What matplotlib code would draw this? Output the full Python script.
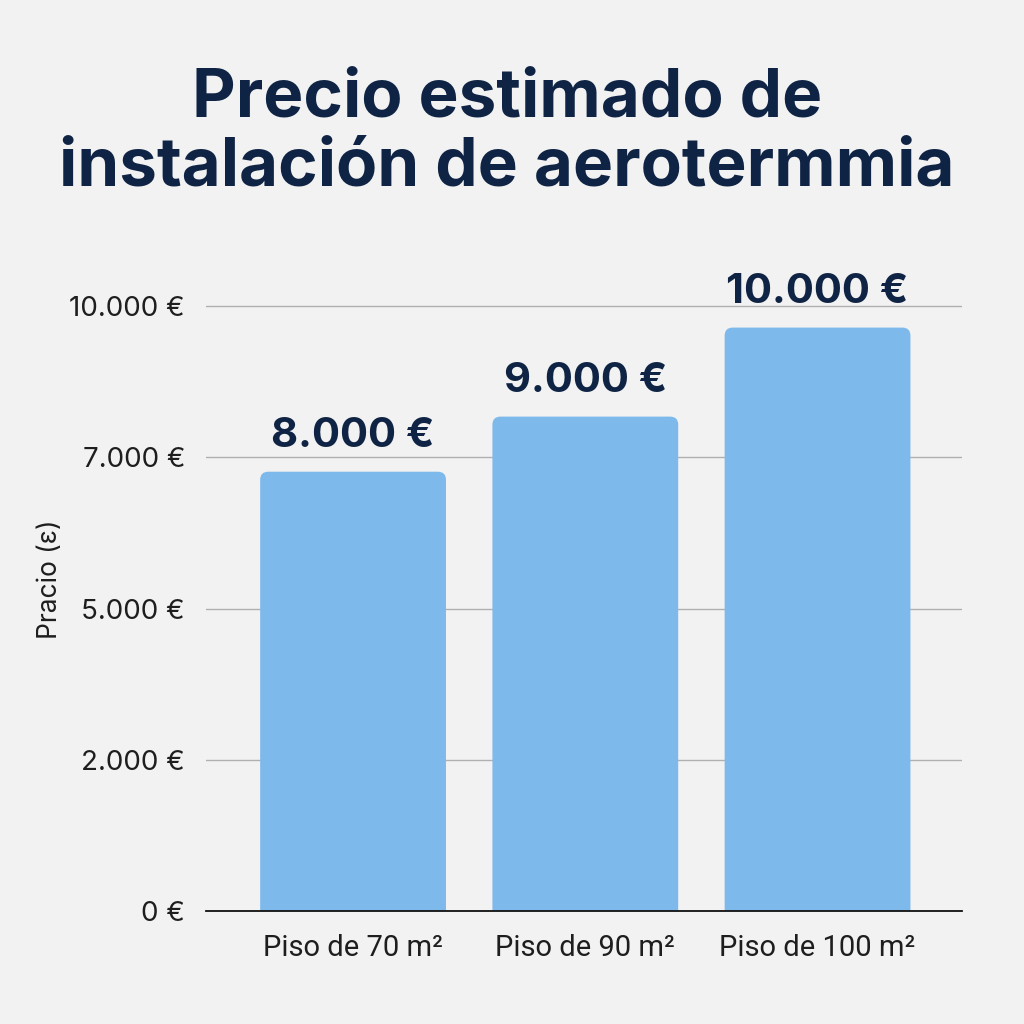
import matplotlib
matplotlib.use("Agg")
import matplotlib.pyplot as plt
from matplotlib.patches import FancyBboxPatch

categories = ["Piso de 70 m²", "Piso de 90 m²", "Piso de 100 m²"]
# bar heights as drawn, in the axis scale of the picture
bar_heights = [7260, 8170, 9640]
value_labels = ["8.000 €", "9.000 €", "10.000 €"]
tick_positions = [0, 2500, 5000, 7500, 10000]
tick_labels = ["0 €", "2.000 €", "5.000 €", "7.000 €", "10.000 €"]

BG = "#f2f2f2"
BAR = "#7db9ea"
NAVY = "#0f2444"
TXT = "#1e1e1e"

plt.rcParams['font.family'] = ['Inter', 'DejaVu Sans']
fig = plt.figure(figsize=(10.24, 10.24), dpi=100, facecolor=BG)
ax = fig.add_axes([0.201, 0.110, 0.738, 0.607], facecolor=BG)

x = list(range(len(categories)))
width = 0.80
bars = ax.bar(x, bar_heights, width=width, color=BAR, zorder=3)
ax.set_xlim(-0.634, 2.62)
ax.set_ylim(0, 10264)

# replace square bars with top-rounded ones (bottom corners clipped by axes)
rx = 0.035
aspect = 3800
below = 600
for b in bars:
    b.set_visible(False)
    x0, w, h = b.get_x(), b.get_width(), b.get_height()
    p = FancyBboxPatch((x0, -below), w, h + below,
                       boxstyle=f"round,pad=0,rounding_size={rx}",
                       mutation_aspect=aspect, facecolor=BAR,
                       edgecolor="none", zorder=3)
    ax.add_patch(p)
    p.set_clip_path(ax.patch)

for xi, h, lab in zip(x, bar_heights, value_labels):
    ax.annotate(lab, (xi, h), xytext=(0, 12), textcoords="offset points",
                ha="center", va="bottom", fontsize=30, fontweight="bold",
                color=NAVY)

ax.set_yticks(tick_positions)
ax.set_yticklabels(tick_labels, fontsize=20, color=TXT)
ax.set_xticks(x)
ax.set_xticklabels(categories, fontsize=21, color=TXT, family=['Roboto', 'DejaVu Sans'])
ax.tick_params(axis="both", length=0)
ax.tick_params(axis="y", pad=15)
ax.tick_params(axis="x", pad=16)
ax.grid(axis="y", color="#b0b0b0", linewidth=1.0, zorder=0)
for s in ["top", "right", "left"]:
    ax.spines[s].set_visible(False)
ax.spines["bottom"].set_color("#111111")
ax.spines["bottom"].set_linewidth(1.3)
ax.spines["bottom"].set_zorder(4)

fig.text(0.049, 0.434, "Pracio (ɛ)", rotation=90, ha="center", va="center",
         fontsize=19, color=TXT)

fig.text(0.495, 0.870, "Precio estimado de\ninstalación de aerotermmia",
         ha="center", va="center", fontsize=48.5, fontweight="bold",
         color=NAVY, linespacing=1.12)

fig.savefig("out.png", dpi=100, facecolor=BG)
